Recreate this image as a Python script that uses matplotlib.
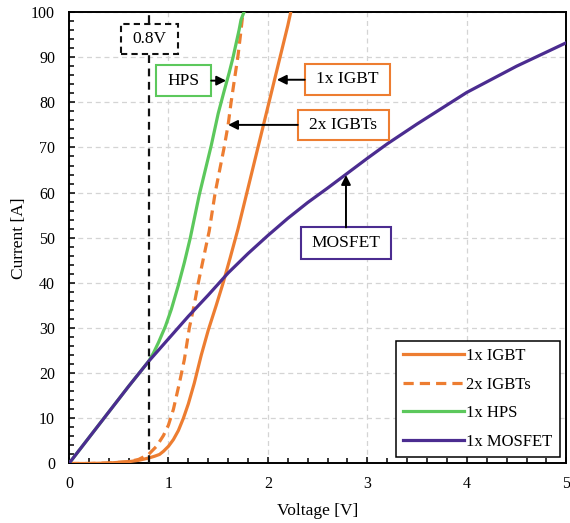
import matplotlib
matplotlib.use("Agg")
import matplotlib.pyplot as plt
import matplotlib.patches as mpatches
from matplotlib.ticker import MultipleLocator

plt.rcParams["font.family"] = ["Liberation Serif", "DejaVu Serif"]

# ── I-V curves: voltage [V], current [A] ──────────────────────────────────────
igbt_v = [0, 0.2, 0.4, 0.6, 0.7, 0.8, 0.86, 0.91, 0.95, 1.0, 1.05, 1.1, 1.15,
          1.2, 1.26, 1.33, 1.40, 1.48, 1.55, 1.62, 1.70, 1.80, 1.90, 2.00,
          2.10, 2.20, 2.23]
igbt_i = [0, 0, 0.1, 0.4, 0.7, 1.2, 1.6, 2.0, 2.7, 3.8, 5.3, 7.3, 10.0,
          13.2, 17.8, 24.0, 29.5, 35.0, 40.0, 45.5, 52.0, 61.0, 70.0, 79.0,
          88.0, 97.0, 100]

igbt2_v = [0, 0.2, 0.4, 0.6, 0.7, 0.8, 0.88, 0.95, 1.0, 1.05, 1.11, 1.16,
           1.21, 1.26, 1.30, 1.36, 1.41, 1.47, 1.56, 1.60, 1.63, 1.66, 1.70,
           1.73, 1.75]
igbt2_i = [0, 0, 0.1, 0.4, 0.9, 2.0, 3.8, 6.2, 8.5, 12.0, 17.8, 23.0,
           30.0, 35.2, 40.0, 46.3, 51.5, 60.0, 70.0, 75.0, 80.0, 84.5, 90.4,
           96.0, 100]

hps_v = [0, 0.2, 0.4, 0.6, 0.8, 0.85, 0.9, 0.97, 1.03, 1.1, 1.16, 1.22,
         1.31, 1.43, 1.50, 1.56, 1.61, 1.65, 1.68, 1.71, 1.73, 1.76]
hps_i = [0, 5.7, 11.4, 17.1, 22.6, 24.5, 26.8, 30.4, 34.2, 39.5, 44.5, 50.0,
         59.5, 70.4, 77.5, 82.5, 86.5, 90.0, 93.0, 96.0, 98.3, 100]

mosfet_v = [0, 0.2, 0.4, 0.6, 0.8, 1.0, 1.2, 1.4, 1.6, 1.8, 2.0, 2.2, 2.4,
            2.6, 2.8, 3.0, 3.2, 3.5, 4.0, 4.5, 5.0]
mosfet_i = [0, 5.7, 11.4, 17.1, 22.6, 27.6, 32.6, 37.3, 42.2, 46.5, 50.5,
            54.3, 57.8, 61.0, 64.3, 67.6, 70.8, 75.2, 82.2, 88.0, 93.2]

ORANGE = "#ED7D31"
GREEN = "#5CC85C"
PURPLE = "#4B2C90"
LW = 2.3

fig = plt.figure(figsize=(5.7, 5.23), dpi=100)
ax = fig.add_axes([0.121, 0.1138, 0.8725, 0.8632])

ax.plot(igbt_v, igbt_i, color=ORANGE, lw=LW, label="1x IGBT", zorder=3)
ax.plot(igbt2_v, igbt2_i, color=ORANGE, lw=LW, ls=(0, (3.2, 1.9)),
        label="2x IGBTs", zorder=3)
ax.plot(hps_v, hps_i, color=GREEN, lw=LW, label="1x HPS", zorder=3)
ax.plot(mosfet_v, mosfet_i, color=PURPLE, lw=LW, label="1x MOSFET", zorder=3)

# 0.8 V reference line
ax.plot([0.8, 0.8], [0, 100], color="#111111", lw=1.6, ls=(0, (3.5, 2.5)),
        zorder=4)


def label_box(x0, x1, y0, y1, text, edge, ls="-"):
    rect = mpatches.Rectangle((x0, y0), x1 - x0, y1 - y0, facecolor="white",
                              edgecolor=edge, lw=1.5, ls=ls, zorder=5)
    ax.add_patch(rect)
    ax.text((x0 + x1) / 2, (y0 + y1) / 2, text, ha="center", va="center",
            fontsize=12.5, color="black", zorder=6)


def pointer(xy_from, xy_to):
    ax.annotate("", xy=xy_to, xytext=xy_from,
                arrowprops=dict(arrowstyle="-|>", color="black", lw=1.4,
                                mutation_scale=14, shrinkA=0, shrinkB=0),
                zorder=6)


label_box(0.52, 1.10, 90.6, 97.4, "0.8V", "#111111", ls=(0, (3, 2)))

label_box(0.87, 1.43, 81.3, 88.3, "HPS", GREEN)
pointer((1.43, 84.8), (1.58, 84.8))

label_box(2.37, 3.23, 81.7, 88.5, "1x IGBT", ORANGE)
pointer((2.37, 85.0), (2.09, 85.0))

label_box(2.30, 3.22, 71.7, 78.4, "2x IGBTs", ORANGE)
pointer((2.30, 75.0), (1.60, 75.0))

label_box(2.33, 3.24, 45.2, 52.3, "MOSFET", PURPLE)
pointer((2.785, 52.3), (2.785, 63.9))

ax.set_xlim(0, 5)
ax.set_ylim(0, 100)
ax.xaxis.set_major_locator(MultipleLocator(1))
ax.xaxis.set_minor_locator(MultipleLocator(0.2))
ax.yaxis.set_major_locator(MultipleLocator(10))
ax.yaxis.set_minor_locator(MultipleLocator(2))
ax.tick_params(which="both", direction="in", top=False, right=False,
               width=1.1, labelsize=11.5, color="black")
ax.tick_params(which="major", length=4.5)
ax.tick_params(which="minor", length=3.5)
ax.tick_params(axis="y", pad=10)
ax.tick_params(axis="x", pad=9)

ax.grid(True, which="major", color="#D4D4D4", lw=0.9, ls=(0, (4, 3)),
        zorder=0)
ax.set_axisbelow(True)
for sp in ax.spines.values():
    sp.set_linewidth(1.4)
    sp.set_color("black")

ax.set_xlabel("Voltage [V]", fontsize=12.5, labelpad=8)
ax.set_ylabel("Current [A]", fontsize=12.5, labelpad=3)

leg = ax.legend(loc="lower right", fontsize=12, frameon=True, fancybox=False,
                framealpha=1, edgecolor="black", handlelength=3.65,
                handletextpad=0.15, labelspacing=0.75, borderpad=0.42,
                borderaxespad=0.4)
leg.get_frame().set_linewidth(1.1)
leg.set_zorder(7)

fig.savefig("out.png", dpi=100)
